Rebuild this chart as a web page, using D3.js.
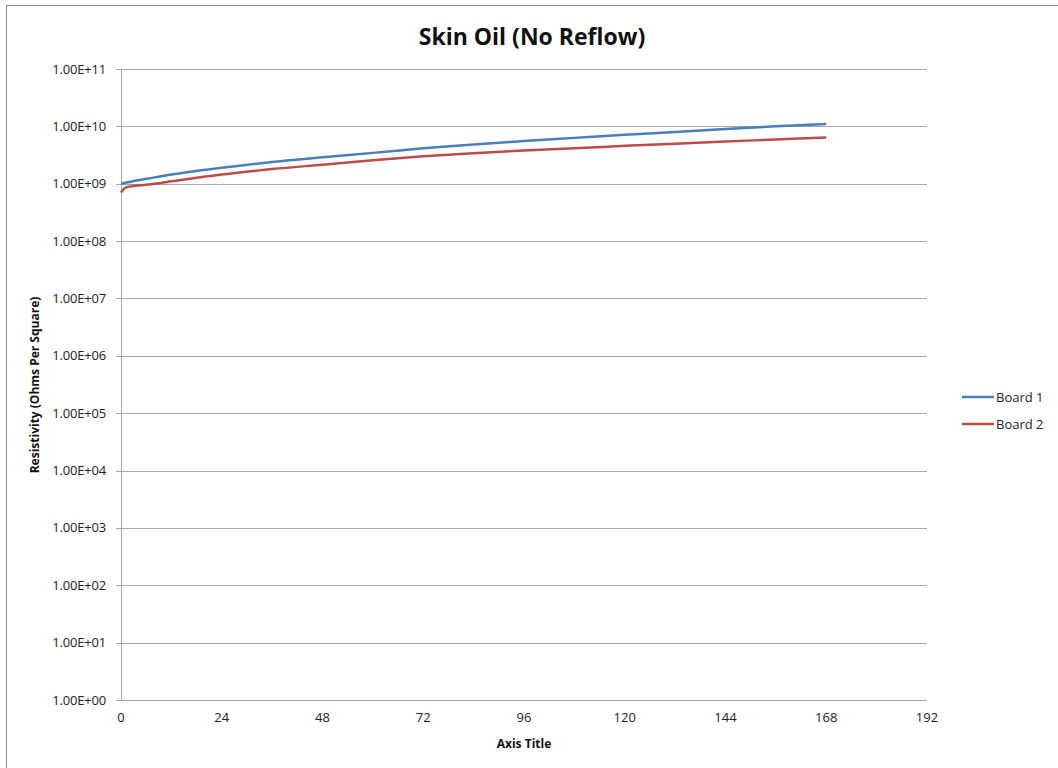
<!DOCTYPE html>
<html>
<head>
<meta charset="utf-8">
<script src="https://cdn.jsdelivr.net/npm/d3@7"></script>
<style>
  body { margin: 0; background: #fff; }
  svg { display: block; font-family: "Open Sans", "Liberation Sans", sans-serif; }
</style>
</head>
<body>
<svg width="1058" height="768"></svg>
<script>
// hours since start
var board1Hours  = [0, 4, 8, 12, 24, 36, 48, 60, 72, 84, 96, 108, 120, 132, 144, 156, 168];
var board1Values = [1.0e9, 1.15e9, 1.29e9, 1.45e9, 1.9e9, 2.4e9, 2.9e9, 3.45e9, 4.15e9, 4.85e9,
                    5.55e9, 6.3e9, 7.15e9, 8.0e9, 9.0e9, 1.0e10, 1.1e10];
var board2Hours  = [0, 1, 2, 4, 8, 12, 24, 36, 48, 60, 72, 84, 96, 108, 120, 132, 144, 156, 168];
var board2Values = [7.0e8, 8.5e8, 8.9e8, 9.3e8, 1.0e9, 1.1e9, 1.45e9, 1.8e9, 2.15e9, 2.57e9,
                    3.0e9, 3.4e9, 3.8e9, 4.17e9, 4.57e9, 5.0e9, 5.45e9, 5.9e9, 6.4e9];
var xTicks = [0, 24, 48, 72, 96, 120, 144, 168, 192];
var yTicks = [1e0, 1e1, 1e2, 1e3, 1e4, 1e5, 1e6, 1e7, 1e8, 1e9, 1e10, 1e11];
var seriesNames  = ["Board 1", "Board 2"];
var seriesColors = ["#4a7ebb", "#be4b48"];

var svg = d3.select("svg");

// chart frame
svg.append("rect")
   .attr("x", 6.5).attr("y", 5.5)
   .attr("width", 1100).attr("height", 800)
   .attr("fill", "#fff")
   .attr("stroke", "#8c8c8c");

var plotLeft = 121, plotRight = 927, plotTop = 69, plotBottom = 700;

var x = d3.scaleLinear().domain([0, 192]).range([plotLeft, plotRight]);
var y = d3.scaleLog().domain([1, 1e11]).range([plotBottom, plotTop]);

// horizontal grid
svg.append("g")
   .selectAll("line")
   .data(yTicks)
   .enter().append("line")
     .attr("x1", plotLeft - 5).attr("x2", plotRight)
     .attr("y1", function(d) { return Math.round(y(d)) + 0.5; })
     .attr("y2", function(d) { return Math.round(y(d)) + 0.5; })
     .attr("stroke", "#a6a6a6");

// y axis line
svg.append("line")
   .attr("x1", plotLeft + 0.5).attr("x2", plotLeft + 0.5)
   .attr("y1", plotTop).attr("y2", plotBottom)
   .attr("stroke", "#a6a6a6");

// y labels
svg.append("g")
   .selectAll("text")
   .data(yTicks)
   .enter().append("text")
     .attr("x", plotLeft - 15)
     .attr("y", function(d) { return y(d); })
     .attr("dy", "0.35em")
     .attr("text-anchor", "end")
     .attr("font-size", 13)
     .attr("letter-spacing", -0.2)
     .attr("fill", "#222")
     .text(function(d) { return d3.format(".2e")(d).replace("e", "E").replace(/E([+-])(\d)$/, "E$10$2"); });

// x labels
svg.append("g")
   .selectAll("text")
   .data(xTicks)
   .enter().append("text")
     .attr("x", function(d) { return x(d); })
     .attr("y", plotBottom + 22)
     .attr("text-anchor", "middle")
     .attr("font-size", 13)
     .attr("fill", "#222")
     .text(function(d) { return d; });

// lines
var line = d3.line()
    .x(function(d) { return x(d[0]); })
    .y(function(d) { return y(d[1]); })
    .curve(d3.curveMonotoneX);

var series = [d3.zip(board1Hours, board1Values), d3.zip(board2Hours, board2Values)];

svg.append("g")
   .selectAll("path")
   .data(series)
   .enter().append("path")
     .attr("d", line)
     .attr("fill", "none")
     .attr("stroke", function(d, i) { return seriesColors[i]; })
     .attr("stroke-width", 2.5);

// titles
svg.append("text")
   .attr("x", 532).attr("y", 45)
   .attr("text-anchor", "middle")
   .attr("font-size", 23)
   .attr("font-weight", "bold")
   .attr("fill", "#111")
   .text("Skin Oil (No Reflow)");

svg.append("text")
   .attr("x", 524).attr("y", 748)
   .attr("text-anchor", "middle")
   .attr("font-size", 12)
   .attr("font-weight", "bold")
   .attr("fill", "#111")
   .text("Axis Title");

svg.append("text")
   .attr("transform", "translate(39,385) rotate(-90)")
   .attr("text-anchor", "middle")
   .attr("font-size", 12)
   .attr("font-weight", "bold")
   .attr("fill", "#111")
   .text("Resistivity (Ohms Per Square)");

// legend
var legend = svg.append("g")
   .selectAll("g")
   .data(seriesNames)
   .enter().append("g")
     .attr("transform", function(d, i) { return "translate(962," + (397 + i * 27) + ")"; });

legend.append("line")
   .attr("x1", 0).attr("x2", 32)
   .attr("stroke", function(d, i) { return seriesColors[i]; })
   .attr("stroke-width", 2.5);

legend.append("text")
   .attr("x", 34).attr("dy", "0.35em")
   .attr("font-size", 13)
   .attr("fill", "#222")
   .text(function(d) { return d; });
</script>
</body>
</html>
